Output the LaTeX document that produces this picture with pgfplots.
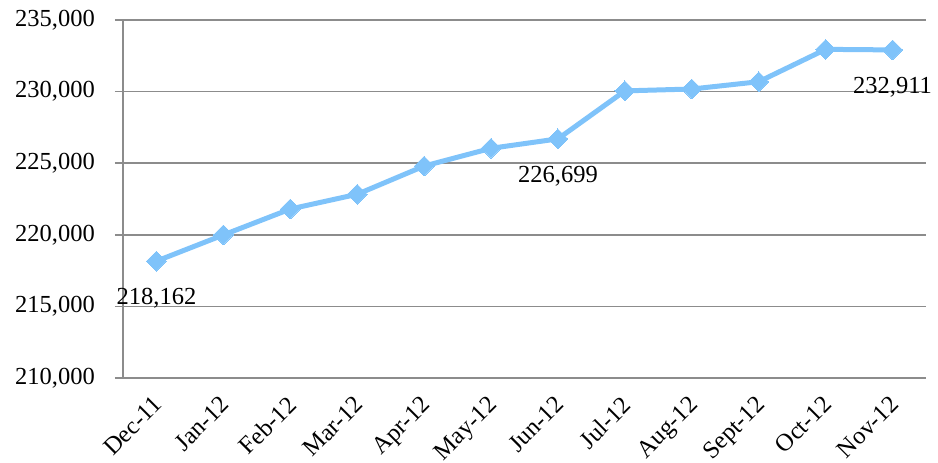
\documentclass[border=0pt]{standalone}
\usepackage{fontspec}
\setmainfont{Liberation Serif}
\usepackage{pgfplots}
\pgfplotsset{compat=1.18}
\definecolor{lineblue}{RGB}{127,195,250}
\definecolor{axgray}{RGB}{140,140,140}
\begin{document}
\fontsize{24.5}{28}\selectfont
\begin{tikzpicture}
\useasboundingbox (-123pt,-85pt) rectangle (815pt,378pt);
\begin{axis}[
  at={(0,0)}, anchor=south west,
  scale only axis, width=803pt, height=358pt,
  xmin=-0.5, xmax=11.5, ymin=210000, ymax=235000,
  ytick={210000,215000,220000,225000,230000,235000},
  yticklabels={{210,000},{215,000},{220,000},{225,000},{230,000},{235,000}},
  xtick={0,...,11},
  xticklabels={Dec-11,Jan-12,Feb-12,Mar-12,Apr-12,May-12,Jun-12,Jul-12,Aug-12,Sept-12,Oct-12,Nov-12},
  minor xtick={-0.5,0.5,...,11.5},
  axis x line*=bottom, axis y line*=left,
  axis line style={axgray, line width=1.5pt},
  every tick/.style={axgray, line width=1.5pt},
  tick align=outside,
  major tick length=8pt, minor tick length=8pt,
  x tick style={draw=none},
  minor x tick style={axgray, line width=1.5pt},
  ymajorgrids, grid style={axgray, line width=1.5pt},
  scaled y ticks=false,
  yticklabel style={anchor=east, xshift=-20pt, inner sep=0pt},
  xticklabel style={rotate=45, anchor=north east, inner sep=0pt, yshift=-3pt, xshift=-9pt},
  tick label style={font=\fontsize{24.5}{28}\selectfont},
  clip=false,
]
\addplot[lineblue, line width=5pt, mark=square*, mark size=7pt,
  mark options={rotate=45, fill=lineblue, draw=lineblue, line width=0pt}]
  coordinates {(0,218162) (1,219990) (2,221800) (3,222830) (4,224800) (5,226040)
  (6,226699) (7,230050) (8,230180) (9,230690) (10,232950) (11,232911)};
\addplot[draw=none, mark=none, nodes near coords,
  point meta=explicit symbolic,
  every node near coord/.style={anchor=north, inner sep=0pt, yshift=-27pt, font=\fontsize{24.5}{28}\selectfont, text=black}]
  coordinates {(0,218162)[218,162] (6,226699)[226,699] (11,232911)[232,911]};
\end{axis}
\end{tikzpicture}
\end{document}
